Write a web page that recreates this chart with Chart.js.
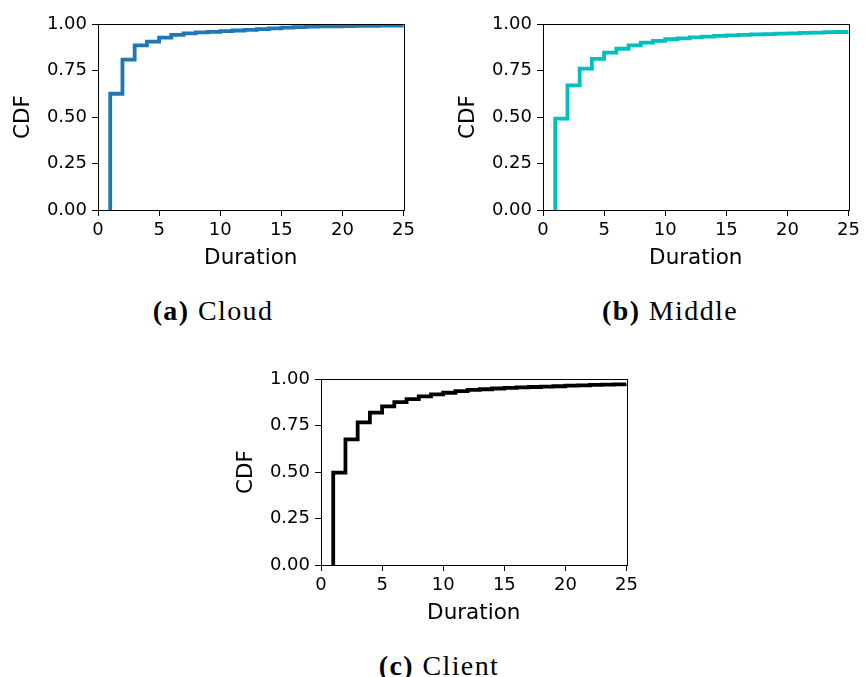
<!DOCTYPE html>
<html>
<head>
<meta charset="utf-8">
<script src="https://cdn.jsdelivr.net/npm/chart.js@4/dist/chart.umd.min.js"></script>
<style>
  html, body { margin: 0; padding: 0; background: #fff; overflow: hidden; }
  body { width: 865px; height: 677px; position: relative; }
  .panel { position: absolute; }
  .cap { position: absolute; font-family: "Liberation Serif", serif; font-size: 28px; line-height: 1; letter-spacing: 1.4px; color: #000; white-space: nowrap; transform: translateX(-50%); }
  .cap b { font-weight: bold; }
</style>
</head>
<body>
<div class="panel" style="left:0px;top:0px;width:419px;height:275px"><canvas id="cA"></canvas></div>
<div class="panel" style="left:445px;top:0px;width:419px;height:275px"><canvas id="cB"></canvas></div>
<div class="panel" style="left:223px;top:355px;width:419px;height:275px"><canvas id="cC"></canvas></div>
<div class="cap" style="left:213px;top:297px"><b>(a)</b> Cloud</div>
<div class="cap" style="left:670px;top:297px"><b>(b)</b> Middle</div>
<div class="cap" style="left:439px;top:652px"><b>(c)</b> Client</div>
<script>
// ---- data ----
const durations = [1,2,3,4,5,6,7,8,9,10,11,12,13,14,15,16,17,18,19,20,21,22,23,24,25];
const cloudCdf  = [0.625,0.808,0.885,0.905,0.927,0.941,0.950,0.955,0.958,0.962,0.965,0.968,0.972,0.976,0.980,0.983,0.986,0.987,0.988,0.989,0.990,0.990,0.991,0.991,0.992];
const middleCdf = [0.491,0.670,0.760,0.812,0.846,0.867,0.885,0.900,0.909,0.918,0.923,0.928,0.932,0.936,0.939,0.941,0.944,0.946,0.948,0.950,0.952,0.954,0.956,0.957,0.959];
const clientCdf = [0.497,0.675,0.767,0.819,0.853,0.876,0.892,0.907,0.917,0.926,0.935,0.941,0.945,0.949,0.952,0.955,0.957,0.959,0.961,0.964,0.966,0.968,0.970,0.971,0.973];
const xTicks = [0,5,10,15,20,25];
const yTicks = [0,0.25,0.5,0.75,1];
const xLabel = "Duration";
const yLabel = "CDF";

function points(vals){
  const pts = [{x: durations[0], y: 0}];
  durations.forEach((d,i) => pts.push({x: d, y: vals[i]}));
  return pts;
}

const framePlugin = {
  id: 'frame',
  afterDraw(chart){
    const {ctx, chartArea: a} = chart;
    ctx.save();
    ctx.strokeStyle = '#000';
    ctx.lineWidth = 1;
    ctx.strokeRect(Math.round(a.left)+0.5, Math.round(a.top)+0.5, Math.round(a.right-a.left), Math.round(a.bottom-a.top));
    ctx.restore();
  }
};

function makeChart(id, vals, color){
  const tickFont = {family: "'DejaVu Sans', sans-serif", size: 18};
  const titleFont = {family: "'DejaVu Sans', sans-serif", size: 21.5};
  return new Chart(document.getElementById(id), {
    type: 'line',
    data: { datasets: [{ data: points(vals), borderColor: color, borderWidth: 3.8, stepped: 'before', pointRadius: 0, fill: false, tension: 0 }] },
    options: {
      responsive: true, maintainAspectRatio: false, animation: false,
      layout: { padding: { left: 0, top: 24, right: 12, bottom: 0 } },
      plugins: { legend: { display: false }, tooltip: { enabled: false } },
      scales: {
        x: {
          type: 'linear', min: 0, max: 25,
          afterBuildTicks(s){ s.ticks = xTicks.map(v => ({value: v})); },
          afterFit(s){ s.height = 65; },
          grid: { drawOnChartArea: false, drawTicks: true, tickLength: 6, color: '#000', lineWidth: 1 },
          border: { display: true, color: '#000', width: 1 },
          ticks: { color: '#000', font: tickFont, padding: 4, maxRotation: 0, autoSkip: false, callback: v => String(v) },
          title: { display: true, text: xLabel, color: '#000', font: titleFont, padding: { top: 0, bottom: 4 } }
        },
        y: {
          type: 'linear', min: 0, max: 1,
          afterBuildTicks(s){ s.ticks = yTicks.map(v => ({value: v})); },
          afterFit(s){ s.width = 98; },
          grid: { drawOnChartArea: false, drawTicks: true, tickLength: 6, color: '#000', lineWidth: 1 },
          border: { display: true, color: '#000', width: 1 },
          ticks: { color: '#000', font: tickFont, padding: 5, autoSkip: false, callback: v => Number(v).toFixed(2) },
          title: { display: true, text: yLabel, color: '#000', font: titleFont, padding: { top: 11, bottom: 0 } }
        }
      }
    },
    plugins: [framePlugin]
  });
}

makeChart('cA', cloudCdf, '#1f77b4');
makeChart('cB', middleCdf, '#00bfbf');
makeChart('cC', clientCdf, '#000000');
</script>
</body>
</html>
